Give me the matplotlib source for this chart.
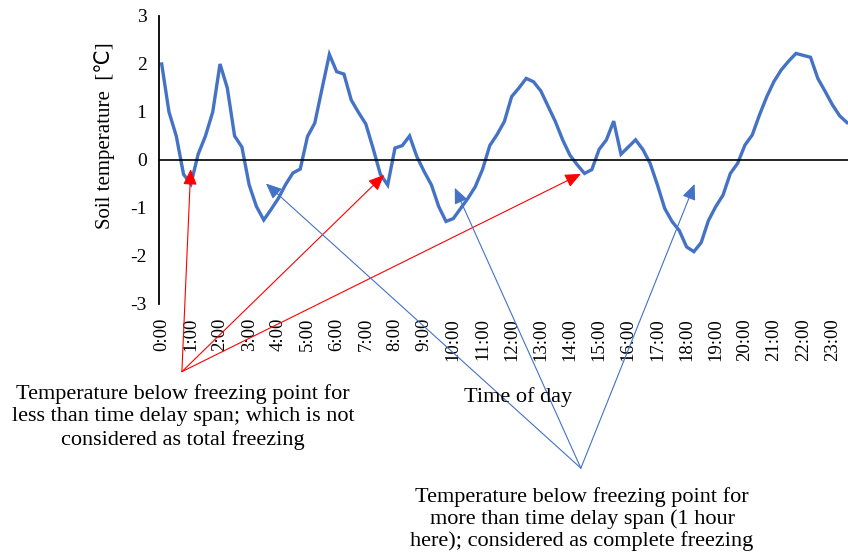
import matplotlib
matplotlib.use('Agg')
import matplotlib.pyplot as plt

# soil temperature every 15 min
temp = [2.0, 1.0, 0.5, -0.3, -0.5, 0.12, 0.5, 1.0,
        2.0, 1.5, 0.5, 0.27, -0.52, -0.97, -1.25, -1.03,
        -0.8, -0.51, -0.27, -0.19, 0.49, 0.77, 1.49, 2.2,
        1.84, 1.79, 1.25, 0.99, 0.75, 0.24, -0.3, -0.52,
        0.25, 0.3, 0.5, 0.07, -0.24, -0.52, -0.97, -1.28,
        -1.22, -1.01, -0.8, -0.56, -0.2, 0.3, 0.53, 0.8,
        1.32, 1.5, 1.7, 1.63, 1.44, 1.12, 0.8, 0.42,
        0.1, -0.1, -0.28, -0.2, 0.22, 0.42, 0.81, 0.12,
        0.27, 0.42, 0.22, -0.07, -0.52, -1.01, -1.28, -1.47,
        -1.81, -1.91, -1.72, -1.26, -0.97, -0.73, -0.28, -0.07,
        0.31, 0.52, 0.94, 1.32, 1.64, 1.88, 2.06, 2.22,
        2.18, 2.14, 1.7, 1.43, 1.15, 0.92, 0.78]
hours = ['%d:00' % h for h in range(24)]
yticks = [-3, -2, -1, 0, 1, 2, 3]

# arrow tips (index, value) and the common tails
red_tips = [(3.98, -0.19), (30.5, -0.31), (57.5, -0.29)]
red_tail = (2.77, -4.41)
blue_tips = [(14.3, -0.49), (40.2, -0.58), (73.1, -0.5)]
blue_tail = (57.5, -6.42)

txt_short = ('Temperature below freezing point for\n'
             'less than time delay span; which is not\n'
             'considered as total freezing')
txt_long = ('Temperature below freezing point for\n'
            'more than time delay span (1 hour\n'
            'here); considered as complete freezing')

serif = ['Liberation Serif', 'DejaVu Sans']
plt.rcParams['font.family'] = serif

W, H = 848, 558
fig = plt.figure(figsize=(W / 100, H / 100), dpi=100)
ax = fig.add_axes([159 / W, (H - 304) / H, 1 - 159 / W, 288 / H])

ax.plot(range(len(temp)), temp, color='#4472C4', lw=2.4, solid_joinstyle='miter')
ax.axhline(0, color='black', lw=1.2)

ax.set_xlim(-0.37, 94.14)
ax.set_ylim(-3, 3)
ax.set_yticks(yticks)
ax.set_yticklabels([str(v) for v in yticks], fontsize=14)
ax.set_xticks(range(0, 4 * len(hours), 4))
ax.set_xticklabels(hours, rotation=90, fontsize=13.5, va='top', ha='center')
ax.tick_params(axis='y', length=0, pad=9)
ax.tick_params(axis='x', length=0, pad=10)

for s in ['top', 'right', 'bottom']:
    ax.spines[s].set_visible(False)
ax.spines['left'].set_linewidth(1.3)

head = '-|>,head_length=0.8,head_width=0.35'
for tip in red_tips:
    ax.annotate('', xy=tip, xytext=red_tail, annotation_clip=False,
                arrowprops=dict(arrowstyle=head, mutation_scale=12,
                                color='#FF0000', lw=0.8, shrinkA=0, shrinkB=0))
for tip in blue_tips:
    ax.annotate('', xy=tip, xytext=blue_tail, annotation_clip=False,
                arrowprops=dict(arrowstyle=head, mutation_scale=12,
                                color='#4472C4', lw=0.8, shrinkA=0, shrinkB=0))

fig.text(105 / W, 1 - 136 / H, 'Soil temperature  [\u2103]', rotation=90,
         ha='center', va='center', fontsize=15)
fig.text(518 / W, 1 - 397 / H, 'Time of day', ha='center', va='center', fontsize=16)
fig.text(183 / W, 1 - 417 / H, txt_short, ha='center', va='center',
         fontsize=16, linespacing=1.25)
fig.text(582 / W, 1 - 519 / H, txt_long, ha='center', va='center',
         fontsize=16, linespacing=1.15)

fig.savefig('out.png', dpi=100)
